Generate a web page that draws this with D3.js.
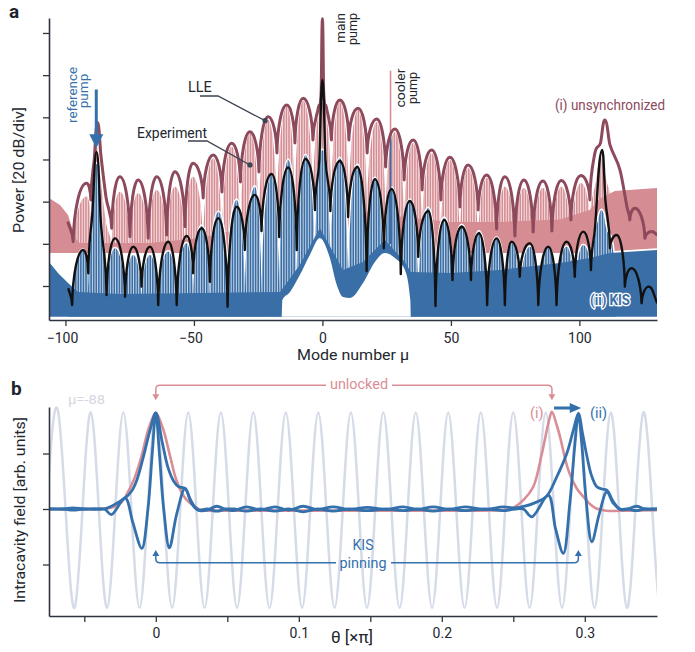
<!DOCTYPE html>
<html><head><meta charset="utf-8">
<script src="https://cdn.jsdelivr.net/npm/d3@7"></script>
<style>body{margin:0;background:#fff}svg{display:block}text{font-family:Roboto,"Noto Sans",sans-serif}</style>
</head><body><svg id="c" width="695" height="652"></svg>
<script>
// ---------------- DATA (panel a: mode number mu, power in dB) ----------------
const xTicksA = [-100, -50, 0, 50, 100];
const yTicksA = [0, 20, 40, 60, 80, 100, 120];
// LLE envelope, unsynchronized (knots: dips and lobe peaks)
const lleUnsync = [[-99.1,30.5],[-97.0,21.0],[-91.8,48.7],[-90.1,40.8],[-88.8,60],[-87.5,77.5],[-86.2,62],[-84.2,42],[-82.0,27.4],
[-78.8,51.8],[-74.9,23.4],[-71.7,50.3],[-67.8,22.6],[-64.5,51.8],[-60.6,24.2],[-57.4,54.2],[-53.5,28.1],[-50.4,58.2],
[-46.4,41.7],[-42.5,62.1],[-39.1,44.6],[-35.3,67.7],[-31.9,49.3],[-28.2,73.2],[-24.7,54.1],[-21.1,80.3],[-17.7,63.1],[-13.9,85.8],[-10.7,67.8],[-7.5,89.0],[-3.7,69.2],
[-1.5,85],[-0.5,92],[0,126.8],[0.5,92],[1.5,85],[3.5,69.2],[6.8,88.2],[10.3,69.2],[13.9,84.3],[17.4,63.1],[21.1,79.2],[24.6,56.4],[28.2,74.5],[31.8,50.3],[35.3,69.2],[38.8,45.5],[42.5,64.5],[46.1,40.8],[49.6,61.0],[53.5,37.5],[56.7,57.4],[60.6,36.0],[63.9,52.6],[67.8,27.0],[71.0,51.8],[74.9,23.7],[78.4,50.3],[82.0,25.6],[85.8,49.8],[89.3,26.1],[93.0,50.0],[96.7,31.3],[100.6,52.4],[104.1,40.8],
[106.0,62.9],[108.2,67.8],[109.9,78.7],[111.9,66.9],[115.8,55.0],[118.6,37],[119.6,31.3],[121.6,36.9],[125.5,22.6],[128.1,25.8],[130.3,24.2]];
// LLE envelope, KIS
const lleKIS = [[-98.9,-1.1],[-97.4,-9.0],[-93.1,17.1],[-91.1,6.0],[-89.5,35],[-87.9,63.6],[-86.2,30],[-84.0,-4.3],
[-80.7,22.6],[-76.8,-5.1],[-73.6,18.6],[-70.4,-0.3],[-67.1,18.6],[-63.9,-9.0],[-60.0,21.0],[-56.7,-9.0],[-52.8,23.7],[-50.3,6.0],[-47.0,27.4],[-43.8,2.0],[-40.5,32.1],[-36.9,-9.8],[-33.4,37.6],[-30.2,17.1],[-26.3,43.2],[-23.7,26.1],[-19.8,53.1],[-16.8,23.2],[-13.3,56.2],[-10.0,17.1],[-6.6,60.2],[-2.9,36.0],
[-1.2,60],[0,97.7],[1.2,60],[3.1,35.6],[6.8,59.3],[10.0,32.7],[13.6,56.4],[17.2,7.1],[20.4,50.7],[23.9,17.9],[26.9,46.0],[30.5,5.7],[34.0,40.3],[37.3,13.8],[41.2,35.6],[44.0,-9.5],[47.4,31.3],[50.6,2.8],[54.2,28.1],[57.8,2.8],[60.9,25.0],[64.1,-9.0],[67.8,22.6],[71.0,-9.0],[73.6,21.0],[76.8,4.4],[80.7,20.3],[84.0,-9.0],[87.9,18.6],[91.1,-9.0],[95.0,21.0],[98.2,4.4],[101.5,25.8],[104.5,7.6],
[106.0,26.6],[108.9,64.5],[110.1,40.8],[111.9,17.9],[114.5,24.2],[117.7,-0.3],[120.3,8.4],[124.2,-8.2],[127.0,-0.3],[130.3,-8.2]];
// measured comb line tops, unsynchronized (pink)
const expUnsync = [[-99.1,18],[-97.0,18],[-91.8,42.4],[-90.1,30],[-88.8,52],[-87.8,66],[-86.5,52],[-84.2,30],[-82.0,18],[-78.8,44.7],[-74.9,18],[-71.7,44.0],[-67.8,18],[-64.5,45.5],[-60.6,18],[-57.4,47.1],[-53.5,18],[-50.4,51.8],[-46.4,18],[-42.5,60.6],[-39.1,20],[-35.3,66.1],[-31.9,22],[-28.2,72.4],[-24.7,26],[-21.1,78.7],[-17.7,30],[-13.9,85.0],[-10.7,34],[-7.5,88.0],[-3.7,38],[0,87.0],[3.5,38],[6.8,87.3],[10.3,38],[13.9,83.5],[17.4,34],[21.1,77.8],[24.6,30],[28.2,73.0],[31.8,26],[35.3,67.8],[38.8,24],[42.5,63.1],[46.1,22],[49.6,59.8],[53.5,20],[56.7,56.0],[60.6,18],[63.9,51.2],[67.8,18],[71.0,47.1],[74.9,18],[78.4,46.5],[82.0,18],[85.8,46.5],[89.3,18],[93.0,47.1],[96.7,18],[100.6,48.9],[104.1,30],[106.5,50],[108.4,60.7],[110.5,50],[113,40],[116,30]];
// measured comb line tops, KIS (blue)
const expKIS = [[-99,-8],[-97.4,-8],[-93.1,17.1],[-91.1,-2],[-89.5,30],[-87.9,58],[-86.3,30],[-84.0,-8],
[-80.7,17.9],[-76.8,-8],[-73.6,14.7],[-70.4,-8],[-67.1,14.7],[-63.9,-8],[-60.0,16.3],[-56.7,-8],[-52.8,20.3],[-50.3,-8],[-47.0,28.5],[-43.8,-8],[-40.5,35.2],[-36.9,-8],[-33.4,40.8],[-30.2,-8],[-26.3,47.1],[-23.7,-8],[-19.8,52.6],[-16.8,-8],[-13.3,59.8],[-10.0,-8],[-6.6,62.1],[-2.9,5],[0,64.5],[3.1,5],[6.8,60.7],[10.0,-8],[13.6,57.4],[17.2,-8],[20.4,51.2],[23.9,-8],[26.9,46.5],[30.5,-8],[34.0,40.8],[37.3,-8],[41.2,37.0],[44.0,-8],[47.4,32.3],[50.6,-8],[54.2,28.9],[57.8,-8],[60.9,25.8],[64.1,-8],[67.8,22.8],[71.0,-8],[73.6,20.3],[76.8,-8],[80.7,18.6],[84.0,-8],[87.9,17.9],[91.1,-8],[95.0,18.6],[98.2,-8],[101.5,19.4],[104.5,5],[106.2,25],[107.3,31.3],[108.6,36.0],[110.6,26.6],[112.5,21.8],[114,8]];
// noise floors of the measured spectra
const floorUnsync = [[-106.4,41.7],[-102.1,38.4],[-99.0,33.7],[-96.3,22.8],[-94.4,20.4],[-67.1,20.4],[-47.7,22.8],[-28.2,28],[-8.8,34],[-0.2,38],[10.7,36],[30.2,33],[49.6,30.4],[69.0,30.4],[92.4,31.5],[104,36],[108.0,41.5],[113.8,45],[130.2,46.5]];
const lowUnsync = 15.7;
const floorKIS = [[-106.4,11.4],[-102.9,6.2],[-99.0,1.4],[-95.1,-2.8],[-78.8,-3.8],[-47.7,-3.3],[-16.5,-2.8],[-8.8,10.0],[-1.0,27.5],[8.0,7.6],[15.8,11.4],[24.3,21.8],[32.1,11.4],[34.4,6.6],[49.6,6.2],[69.0,7.6],[92.4,10.9],[104.1,13.3],[111.9,15.7],[130.2,17.1]];
const lowKIS = [[-106.4,-14.6],[-15.8,-14.6],[-15.6,-6.6],[-12.6,-2.8],[-8.8,5.2],[-4.9,14.7],[-1.0,22.8],[2.9,13.3],[5.6,0.5],[8.0,-5.2],[10.7,-5.7],[15.8,1.4],[20.4,11.4],[24.3,15.7],[28.2,13.3],[32.1,7.6],[34.2,-6.6],[34.4,-14.6],[130.2,-14.6]];
const coolerPump = {mu: 26.5, unsyncTop: 102.1, kisTop: 71.6};
const refPumpMu = -88;

// ---------------- DATA (panel b: theta [x pi], field) ----------------
const xTicksB = [-0.05, 0, 0.05, 0.1, 0.15, 0.2, 0.25, 0.3];
const xLabelsB = [0, 0.1, 0.2, 0.3];
const yTicksB = [-1, 0, 1];
const refWave = [[-0.0795,-1.78],[-0.0682,1.74],[-0.0568,-1.78],[-0.0455,1.74],[-0.0341,-1.78],[-0.0227,1.74],[-0.0114,-1.78],[0,1.74],[0.0114,-1.78],[0.0227,1.74],[0.0341,-1.78],[0.0455,1.74],[0.0568,-1.78],[0.0682,1.74],[0.0795,-1.78],[0.0909,1.74],[0.1023,-1.78],[0.1136,1.74],[0.125,-1.78],[0.1364,1.74],[0.1477,-1.78],[0.1591,1.74],[0.1705,-1.78],[0.1818,1.74],[0.1932,-1.78],[0.2045,1.74],[0.2159,-1.78],[0.2273,1.74],[0.2386,-1.78],[0.25,1.74],[0.2614,-1.78],[0.2727,1.74],[0.2841,-1.78],[0.2955,1.74],[0.3068,-1.78],[0.3182,1.74],[0.3295,-1.78],[0.3409,1.74],[0.3523,-1.78],[0.3636,1.74]];
const fieldUnsync = [[-0.075,0],[-0.04,0],[-0.03,0.03],[-0.024,0.12],[-0.02,0.28],[-0.015,0.55],[-0.01,0.95],[-0.005,1.45],[0,1.73],[0.005,1.45],[0.01,0.95],[0.014,0.55],[0.018,0.3],[0.022,0.15],[0.027,0.05],[0.032,-0.02],[0.05,-0.03],[0.1,-0.03],[0.2,-0.03],[0.24,-0.02],[0.248,0],[0.257,0.16],[0.264,0.40],[0.27,1.0],[0.2745,1.54],[0.277,1.75],[0.2805,1.5],[0.2827,1.3],[0.2885,0.70],[0.2944,0.37],[0.300,0.19],[0.304,0.08],[0.308,0.01],[0.315,-0.03],[0.33,-0.03],[0.3505,-0.02]];
const fieldKIS1 = [[-0.075,0.0],[-0.065,0.0],[-0.058,0.02],[-0.05,0.0],[-0.043,0.0],[-0.036,0.0],[-0.0215,0.2],[-0.017,0.32],[-0.0133,0.52],[-0.0087,0.94],[-0.004,1.42],[0,1.73],[0.0045,1.2],[0.0085,0.75],[0.0125,0.5],[0.016,0.40],[0.0205,0.37],[0.024,0.18],[0.0275,0.03],[0.031,-0.03],[0.036,-0.02],[0.0427,0.05],[0.049,-0.01],[0.0545,-0.03],[0.0636,0.04],[0.073,-0.02],[0.0834,0.04],[0.093,-0.02],[0.103,0.05],[0.113,-0.01],[0.124,0.04],[0.135,-0.01],[0.148,0.03],[0.161,-0.01],[0.173,0.04],[0.183,-0.01],[0.194,0.04],[0.205,-0.01],[0.216,0.04],[0.23,-0.01],[0.243,0.04],[0.251,0.02],[0.258,0.05],[0.265,0.11],[0.273,0.22],[0.2804,0.58],[0.2874,1.0],[0.292,1.42],[0.2955,1.72],[0.2985,1.35],[0.3015,0.95],[0.3045,0.62],[0.3084,0.40],[0.312,0.36],[0.3154,0.34],[0.32,0.13],[0.3247,-0.01],[0.33,0.0],[0.336,0.05],[0.342,0.0],[0.3505,0.0]];
const fieldKIS2 = [[-0.075,0.0],[-0.065,0.0],[-0.058,-0.02],[-0.05,0.0],[-0.043,0.0],[-0.036,0.0],[-0.031,-0.1],[-0.0215,0.2],[-0.016,-0.25],[-0.0098,-0.71],[-0.0055,0.0],[-0.0025,1.0],[0,1.73],[0.0025,1.0],[0.0055,0.0],[0.0095,-0.70],[0.0145,-0.1],[0.0205,0.37],[0.025,0.1],[0.0295,-0.02],[0.036,0.0],[0.0427,-0.04],[0.049,0.0],[0.0545,0.0],[0.0636,-0.04],[0.073,0.0],[0.0834,-0.04],[0.093,0.0],[0.103,-0.05],[0.113,0.0],[0.124,-0.04],[0.135,0.0],[0.148,-0.03],[0.161,0.0],[0.173,-0.03],[0.183,0.0],[0.194,-0.04],[0.205,0.0],[0.216,-0.03],[0.23,0.0],[0.243,-0.03],[0.251,0.0],[0.257,0.0],[0.263,-0.14],[0.2745,0.25],[0.2795,-0.35],[0.285,-0.80],[0.2895,0.1],[0.2932,1.2],[0.2955,1.72],[0.2978,1.2],[0.3008,0.2],[0.3049,-0.59],[0.310,-0.1],[0.3154,0.31],[0.32,0.1],[0.3247,0.0],[0.33,0.0],[0.336,-0.03],[0.342,0.0],[0.3505,0.0]];

// ---------------- STYLE ----------------
const PINK='#d58c93', DARKRED='#8d4a5c', BLUE='#3a6ea6', BLACK='#111', AX='#2f3540', TXT='#23272e';
const BBLUE='#3471ac', BPINK='#d98e95', SINE='#d5dbe7';

const svg = d3.select('#c');
const defs = svg.append('defs');

// ---------------- PANEL A ----------------
const xA = d3.scaleLinear().domain([-106.4,130.2]).range([49,657]);
const yA = d3.scaleLinear().domain([-16.13,127.1]).range([320,18]);

function lobePath(knots, xs, ys){
  const p = knots.map(k=>[xs(k[0]), ys(k[1])]), n=p.length;
  const type = knots.map((k,i)=>{
    if(i===0||i===n-1) return 'e';
    const a=knots[i-1][1], b=k[1], c=knots[i+1][1];
    if(b>=a&&b>=c) return 'max';
    if(b<=a&&b<=c) return 'min';
    return 'pass';
  });
  const slope = p.map((q,i)=>{
    if(i===0) return (p[1][1]-q[1])/(p[1][0]-q[0]);
    if(i===n-1) return (q[1]-p[n-2][1])/(q[0]-p[n-2][0]);
    return (p[i+1][1]-p[i-1][1])/(p[i+1][0]-p[i-1][0]);
  });
  let d=`M${p[0][0]},${p[0][1]}`;
  for(let i=0;i<n-1;i++){
    const [x0,y0]=p[i],[x1,y1]=p[i+1],dx=x1-x0,dy=y1-y0;
    let c1,c2;
    if(type[i]==='max') c1=[x0+0.5*dx,y0];
    else if(type[i]==='min') c1=[x0+0.06*dx,y0+0.55*dy];
    else c1=[x0+dx/3,y0+slope[i]*dx/3];
    if(type[i+1]==='max') c2=[x1-0.5*dx,y1];
    else if(type[i+1]==='min') c2=[x1-0.06*dx,y1-0.55*dy];
    else c2=[x1-dx/3,y1-slope[i+1]*dx/3];
    d+=`C${c1[0]},${c1[1]},${c2[0]},${c2[1]},${x1},${y1}`;
  }
  return d;
}
function lobeArea(knots, baseDb){
  const b=yA(baseDb);
  return lobePath(knots,xA,yA)+`L${xA(knots[knots.length-1][0])},${b}L${xA(knots[0][0])},${b}Z`;
}
defs.append('clipPath').attr('id','clipA').append('rect').attr('x',49).attr('y',0).attr('width',608).attr('height',320);
defs.append('clipPath').attr('id','clipPinkLobes').append('path').attr('d',lobeArea(expUnsync,lowUnsync));
defs.append('clipPath').attr('id','clipBlueLobes').append('path').attr('d',lobeArea(expKIS,-14.6));

let stripes='';
for(let m=-107;m<=131;m++){ stripes+=`M${xA(m+0.5)},18V320`; }

const gA = svg.append('g').attr('clip-path','url(#clipA)');
// unsynchronized measured spectrum
gA.append('line').attr('x1',xA(coolerPump.mu)).attr('x2',xA(coolerPump.mu)).attr('y1',yA(coolerPump.unsyncTop)).attr('y2',yA(40)).attr('stroke',PINK).attr('stroke-width',1.6);
gA.append('path').attr('d',lobeArea(expUnsync,lowUnsync)).attr('fill',PINK);
gA.append('path').attr('d',stripes).attr('stroke','#fff').attr('stroke-width',0.9).attr('stroke-opacity',0.85).attr('clip-path','url(#clipPinkLobes)');
gA.append('path').attr('d',d3.area().x(d=>xA(d[0])).y0(yA(lowUnsync)).y1(d=>yA(d[1]))(floorUnsync)).attr('fill',PINK);

// KIS measured spectrum
gA.append('path').attr('d',d3.line().x(d=>xA(d[0])).y(d=>yA(d[1]))(floorKIS)).attr('fill','none').attr('stroke','#fff').attr('stroke-width',3.2);
gA.append('path').attr('d',lobePath(expKIS,xA,yA)).attr('fill','none').attr('stroke','#fff').attr('stroke-width',3.2);
gA.append('path').attr('d',lobeArea(expKIS,-14.6)).attr('fill',BLUE);
gA.append('path').attr('d',stripes).attr('stroke','#fff').attr('stroke-width',0.9).attr('stroke-opacity',0.8).attr('clip-path','url(#clipBlueLobes)');
gA.append('path').attr('d',d3.area().x(d=>xA(d[0])).y0(yA(-14.6)).y1(d=>yA(d[1]))(floorKIS)).attr('fill',BLUE);
gA.append('line').attr('x1',xA(coolerPump.mu)).attr('x2',xA(coolerPump.mu)).attr('y1',yA(coolerPump.kisTop)).attr('y2',yA(20)).attr('stroke',BLUE).attr('stroke-width',1.6);
gA.append('path').attr('d',d3.area().curve(d3.curveMonotoneX).x(d=>xA(d[0])).y0(yA(-14.6)).y1(d=>yA(d[1]))(lowKIS)).attr('fill','#fff');

// LLE curves
gA.append('path').attr('d',lobePath(lleUnsync,xA,yA)).attr('fill','none').attr('stroke',DARKRED).attr('stroke-width',3).attr('stroke-linejoin','round');
gA.append('path').attr('d',lobePath(lleKIS,xA,yA)).attr('fill','none').attr('stroke',BLACK).attr('stroke-width',2.4).attr('stroke-linejoin','round');

// axes A
const axA = svg.append('g').attr('font-family','Roboto,sans-serif');
const yAxisA = axA.append('g').attr('transform','translate(49,0)')
  .call(d3.axisLeft(yA).tickValues(yTicksA).tickFormat('').tickSize(6).tickSizeOuter(0));
const xAxisA = axA.append('g').attr('transform','translate(0,320)')
  .call(d3.axisBottom(xA).tickValues(xTicksA).tickSize(6).tickSizeOuter(0).tickPadding(7));
[yAxisA,xAxisA].forEach(g=>{g.select('.domain').attr('stroke',AX).attr('stroke-width',1.6);
  g.selectAll('.tick line').attr('stroke',AX).attr('stroke-width',1.3);
  g.selectAll('.tick text').attr('font-size',14).attr('fill',TXT).attr('font-family','Roboto,sans-serif');});
xAxisA.selectAll('.tick text').attr('dx',d=>d<0?'-0.25em':0);

function text(x,y,s,o={}){
  const t=svg.append('text').attr('x',x).attr('y',y).text(s)
   .attr('font-size',o.size||14).attr('fill',o.fill||TXT).attr('text-anchor',o.anchor||'start');
  if(o.weight) t.attr('font-weight',o.weight);
  if(o.len) t.attr('textLength',o.len).attr('lengthAdjust','spacingAndGlyphs');
  return t;
}
function rtext(x,y,s,o={}){
  const t=svg.append('text').attr('transform',`translate(${x},${y}) rotate(-90)`).text(s)
   .attr('font-size',o.size||13.5).attr('fill',o.fill||TXT).attr('text-anchor',o.anchor||'middle');
  if(o.len) t.attr('textLength',o.len).attr('lengthAdjust','spacingAndGlyphs');
  return t;
}
text(9,18,'a',{size:19,weight:'bold',fill:'#1e242c'});
rtext(24,170,'Power [20 dB/div]',{size:15.5,len:126});
text(353,360,'Mode number μ',{size:15.5,anchor:'middle',len:112});

// reference pump
rtext(77,95,'reference',{fill:BBLUE,len:56});
rtext(88,91,'pump',{fill:BBLUE});
const rx=xA(refPumpMu);
svg.append('line').attr('x1',rx).attr('x2',rx).attr('y1',yA(93.2)).attr('y2',yA(70)).attr('stroke',BBLUE).attr('stroke-width',3);
svg.append('path').attr('d',`M${rx-7},${yA(72)}L${rx+7},${yA(72)}L${rx},${yA(65.5)}Z`).attr('fill',BBLUE);
// main / cooler pump
rtext(345,13,'main',{anchor:'end',len:30});
rtext(357,13,'pump',{anchor:'end',len:32});
rtext(405,88,'cooler',{len:39});
rtext(417,88,'pump',{len:32});
// LLE & Experiment leaders
text(188,92,'LLE',{size:14.5});
text(137,138,'Experiment',{size:14.5,len:70});
svg.append('path').attr('d',`M200,96L218,96L${xA(-22.3)},${yA(78.4)}`).attr('fill','none').attr('stroke','#3a4350').attr('stroke-width',1.3);
svg.append('circle').attr('cx',xA(-22.3)).attr('cy',yA(78.4)).attr('r',2.6).attr('fill','#3a4350');
svg.append('path').attr('d',`M188,141L207,141L${xA(-28.2)},${yA(57.4)}`).attr('fill','none').attr('stroke','#3a4350').attr('stroke-width',1.3);
svg.append('circle').attr('cx',xA(-28.2)).attr('cy',yA(57.4)).attr('r',2.6).attr('fill','#3a4350');
text(555,110,'(i) unsynchronized',{size:14.5,fill:DARKRED,len:110});
text(590,305,'(ii) KIS',{size:14,weight:'bold',fill:BLUE,len:40}).attr('stroke','#fff').attr('stroke-width',2.6).attr('paint-order','stroke');

// ---------------- PANEL B ----------------
const xB = d3.scaleLinear().domain([-0.0747,0.3505]).range([49,657]);
const yB = d3.scaleLinear().domain([-1.928,1.838]).range([616,407]);
defs.append('clipPath').attr('id','clipB').append('rect').attr('x',49).attr('y',380).attr('width',608).attr('height',236);
const gB = svg.append('g').attr('clip-path','url(#clipB)');
gB.append('path').attr('d',d3.line().curve(d3.curveNatural).x(d=>xB(d[0])).y(d=>yB(d[1]))(refWave)).attr('fill','none').attr('stroke',SINE).attr('stroke-width',2.5);
const lineB = d3.line().curve(d3.curveCatmullRom.alpha(0.5)).x(d=>xB(d[0])).y(d=>yB(d[1]));
gB.append('path').attr('d',lineB(fieldUnsync)).attr('fill','none').attr('stroke',BPINK).attr('stroke-width',2.6);
gB.append('path').attr('d',lineB(fieldKIS1)).attr('fill','none').attr('stroke',BBLUE).attr('stroke-width',2.8).attr('stroke-linejoin','round');
gB.append('path').attr('d',lineB(fieldKIS2)).attr('fill','none').attr('stroke',BBLUE).attr('stroke-width',2.8).attr('stroke-linejoin','round');

const yAxisB = svg.append('g').attr('transform','translate(49,0)')
  .call(d3.axisLeft(yB).tickValues(yTicksB).tickFormat('').tickSize(6).tickSizeOuter(0));
const xAxisB = svg.append('g').attr('transform','translate(0,616)')
  .call(d3.axisBottom(xB).tickValues(xTicksB).tickSize(6).tickSizeOuter(0).tickPadding(6)
  .tickFormat(d=>xLabelsB.some(v=>Math.abs(v-d)<1e-9)?d3.format('')(d):''));
[yAxisB,xAxisB].forEach(g=>{g.select('.domain').attr('stroke',AX).attr('stroke-width',1.6);
  g.selectAll('.tick line').attr('stroke',AX).attr('stroke-width',1.3);
  g.selectAll('.tick text').attr('font-size',14).attr('fill',TXT).attr('font-family','Roboto,sans-serif');});

text(11,395,'b',{size:19,weight:'bold',fill:'#1e242c'});
rtext(25,510,'Intracavity field [arb. units]',{size:15.5,len:186});
text(352,643,'θ [×π]',{size:16,anchor:'middle',len:42});
text(68,404,'μ=-88',{size:13.5,fill:'#d3d7df',len:37});

// unlocked bracket
const pL=xB(0), pR=xB(0.277), yTop=yB(2.23), yTip=yB(1.96);
svg.append('path').attr('d',`M${pL},${yTip-4}V${yTop+4}Q${pL},${yTop} ${pL+4},${yTop}H326M392,${yTop}H${pR-4}Q${pR},${yTop} ${pR},${yTop+4}V${yTip-4}`)
  .attr('fill','none').attr('stroke',BPINK).attr('stroke-width',1.5);
[pL,pR].forEach(x=>svg.append('path').attr('d',`M${x-3.5},${yTip-6}L${x+3.5},${yTip-6}L${x},${yTip}Z`).attr('fill',BPINK));
text(359,389,'unlocked',{size:14.5,fill:BPINK,anchor:'middle',len:58});
// KIS pinning bracket
const kL=xB(0), kR=xB(0.2955), yBot=yB(-0.97), yTip2=yB(-0.74);
svg.append('path').attr('d',`M${kL},${yTip2+4}V${yBot-4}Q${kL},${yBot} ${kL+4},${yBot}H336M391,${yBot}H${kR-4}Q${kR},${yBot} ${kR},${yBot-4}V${yTip2+4}`)
  .attr('fill','none').attr('stroke',BBLUE).attr('stroke-width',1.5);
[kL,kR].forEach(x=>svg.append('path').attr('d',`M${x-3.5},${yTip2+6}L${x+3.5},${yTip2+6}L${x},${yTip2}Z`).attr('fill',BBLUE));
text(363,550,'KIS',{size:14,fill:BBLUE,anchor:'middle',len:21});
text(363,568,'pinning',{size:14,fill:BBLUE,anchor:'middle',len:47});
// (i) -> (ii)
text(530,418,'(i)',{size:14.5,fill:BPINK});
text(590,418,'(ii)',{size:14.5,fill:BBLUE});
const ay=yB(1.82);
svg.append('line').attr('x1',xB(0.2785)).attr('x2',xB(0.2905)).attr('y1',ay).attr('y2',ay).attr('stroke',BBLUE).attr('stroke-width',3);
svg.append('path').attr('d',`M${xB(0.2895)},${ay-5}L${xB(0.2975)},${ay}L${xB(0.2895)},${ay+5}Z`).attr('fill',BBLUE);
</script></body></html>
